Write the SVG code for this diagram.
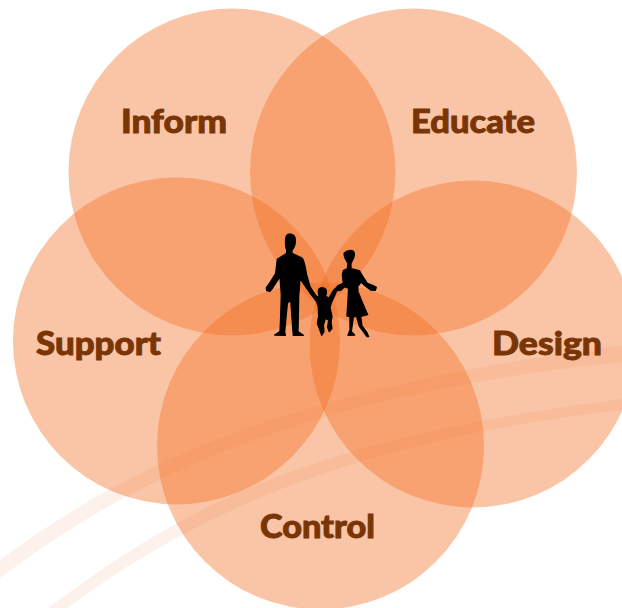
<svg xmlns="http://www.w3.org/2000/svg" width="622" height="608" viewBox="0 0 622 608">
<style>
.c{fill:#F26E21;fill-opacity:.4}
.t{font-family:"Lato","Liberation Sans",sans-serif;font-weight:900;font-size:32px;fill:#7A3506;stroke:#7A3506;stroke-width:.9px;text-anchor:start}
.b{fill:#FDF1EB}
.f{fill:#000;stroke:#000;stroke-width:4;stroke-linejoin:round}
</style>
<rect width="622" height="608" fill="#fff"/>
<g id="swooshes">
<path class="b" d="M0 560C110 480 250 395 622 345V362C300 395 130 480 0 578Z"/>
<path class="b" d="M48 608C180 510 300 440 622 399V410C360 440 200 510 67 608Z"/>
</g>
<g id="inform"><circle class="c" cx="232" cy="172" r="163.5"/><text class="t" x="121" y="132.500" textLength="106" lengthAdjust="spacingAndGlyphs">Inform</text></g>
<g id="educate"><circle class="c" cx="413.5" cy="172" r="163.5"/><text class="t" x="411" y="132.500" textLength="124" lengthAdjust="spacingAndGlyphs">Educate</text></g>
<g id="support"><circle class="c" cx="176.500" cy="341" r="163.500"/><text class="t" x="36" y="355" textLength="125" lengthAdjust="spacingAndGlyphs">Support</text></g>
<g id="design"><circle class="c" cx="473" cy="344" r="163.500"/><text class="t" x="492" y="355" textLength="110" lengthAdjust="spacingAndGlyphs">Design</text></g>
<g id="control"><circle class="c" cx="320.500" cy="446" r="163.500"/><text class="t" x="260" y="537.500" textLength="115" lengthAdjust="spacingAndGlyphs">Control</text></g>
<g id="family" transform="translate(250 220) scale(.3333)">
<path class="f" d="M120 42C133 43 136 52 136 62C136 74 132 84 126 90V100L156 114C164 124 166 145 170 165L180 200L196 225L206 238L200 240L182 222L160 190L150 175L146 230L144 335L160 346L130 346L129 335L122 240L112 250L104 335L106 346L74 345L90 335L92 290L94 225L90 170L68 204L60 214L50 212L49 203L62 185L77 160L82 118L110 100V90C105 80 106 55 109 48C112 44 115 42 120 42Z"/>
<path class="f" d="M216 203C226 203 231 210 229 219L227 229L237 234L250 212L256 205L262 208L256 222L245 246L240 262L246 290L243 308L246 325L238 335L233 322L236 300L226 295L220 316L222 335L215 346L211 334L202 310L206 290L205 262L200 245L184 224L178 212L183 212L198 228L208 233L205 218C204 208 208 203 216 203Z"/>
<path class="f" d="M298 92C310 90 314 96 313 106C312 114 306 122 303 130V146L328 152L340 172L352 190L372 198L379 202L376 211L362 210L346 198L333 186L323 200L324 215L338 250L353 284L332 289L336 318L351 338L356 350L351 350L328 318L320 290H310L304 335L314 345L294 346L300 330L300 290L291 288L294 240L296 205L284 200L272 211L260 212L257 205L264 197L280 190L277 165L280 152L292 146L294 130L284 112L282 100C286 95 290 92 298 92Z"/>
</g>
</svg>
